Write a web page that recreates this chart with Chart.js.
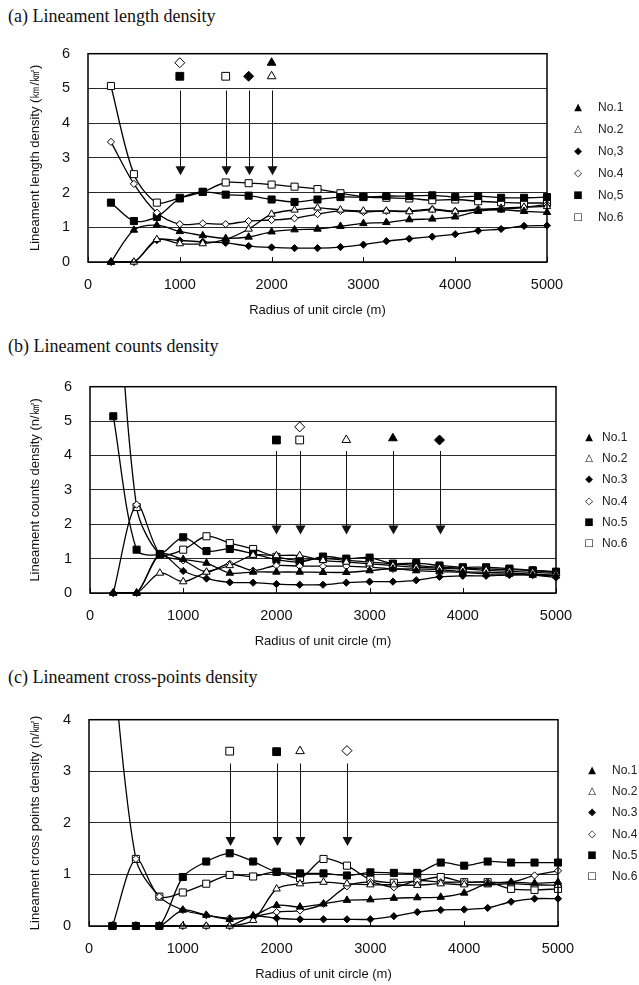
<!DOCTYPE html>
<html>
<head>
<meta charset="utf-8">
<script src="https://cdn.jsdelivr.net/npm/chart.js@4.4.1/dist/chart.umd.min.js"></script>
<style>
  body { margin: 0; background: #fff; width: 639px; height: 985px; position: relative; overflow: hidden; font-family: "Liberation Sans", Arial, sans-serif; }
  .ttl { position: absolute; left: 8px; font-family: "Liberation Serif", "Times New Roman", serif; font-size: 18px; color: #111; line-height: 20px; white-space: nowrap; }
  canvas { position: absolute; left: 0; }
  .lg { position: absolute; font-size: 12px; color: #222; line-height: 14px; white-space: nowrap; }
  .lg.sym { font-family: "DejaVu Sans", sans-serif; font-size: 10px; width: 16px; text-align: center; color: #000; }
</style>
</head>
<body>
<div class="ttl" style="top:6px">(a) Lineament length density</div>
<div class="ttl" style="top:336px">(b) Lineament counts density</div>
<div class="ttl" style="top:667px">(c) Lineament cross-points density</div>
<canvas id="cA"></canvas>
<canvas id="cB"></canvas>
<canvas id="cC"></canvas>
<script>
// Radius of unit circle (m)
const radius = [250, 500, 750, 1000, 1250, 1500, 1750, 2000, 2250, 2500, 2750, 3000, 3250, 3500, 3750, 4000, 4250, 4500, 4750, 5000];

// (a) Lineament length density (km/km2)
const lenNo1 = [0, 0.92, 1.06, 0.88, 0.76, 0.68, 0.72, 0.87, 0.93, 0.95, 1.03, 1.11, 1.14, 1.22, 1.24, 1.3, 1.46, 1.5, 1.46, 1.43];
const lenNo2 = [0, 0, 0.65, 0.53, 0.53, 0.65, 0.95, 1.38, 1.5, 1.56, 1.5, 1.47, 1.47, 1.45, 1.5, 1.45, 1.5, 1.55, 1.58, 1.6];
const lenNo3 = [0, 0, 0.63, 0.62, 0.58, 0.55, 0.46, 0.42, 0.4, 0.4, 0.43, 0.5, 0.6, 0.67, 0.73, 0.8, 0.9, 0.95, 1.04, 1.05];
const lenNo4 = [3.46, 2.25, 1.42, 1.09, 1.11, 1.09, 1.18, 1.21, 1.26, 1.38, 1.47, 1.44, 1.47, 1.47, 1.52, 1.47, 1.52, 1.52, 1.57, 1.66];
const lenNo5 = [1.71, 1.18, 1.3, 1.83, 2.02, 1.94, 1.91, 1.8, 1.73, 1.8, 1.87, 1.87, 1.9, 1.9, 1.92, 1.87, 1.9, 1.85, 1.85, 1.87];
const lenNo6 = [5.07, 2.53, 1.71, 1.85, 2.02, 2.29, 2.27, 2.23, 2.17, 2.1, 1.98, 1.88, 1.85, 1.83, 1.78, 1.8, 1.75, 1.72, 1.7, 1.7];
const lenMarkX = [1000, 1000, 1500, 1750, 2000, 2000];
const lenMarkY = [5.74, 5.35, 5.35, 5.35, 5.74, 5.35];
const lenMarkNo = [4, 5, 6, 3, 1, 2];
const lenArrowX = [1000, 1500, 1750, 2000];
const lenArrowY = [4.94, 2.5];

// (b) Lineament counts density (n/km2)
const cntNo1 = [0, 0, 1.13, 0.98, 0.87, 0.58, 0.61, 0.61, 0.61, 0.6, 0.6, 0.65, 0.7, 0.65, 0.62, 0.6, 0.55, 0.55, 0.52, 0.5];
const cntNo2 = [0, 0, 0.58, 0.33, 0.61, 0.8, 1.1, 1.09, 1.09, 0.95, 0.9, 0.85, 0.8, 0.75, 0.72, 0.7, 0.66, 0.63, 0.6, 0.57];
const cntNo3 = [0, 0, 1.13, 0.64, 0.42, 0.31, 0.3, 0.26, 0.24, 0.24, 0.3, 0.33, 0.33, 0.37, 0.47, 0.5, 0.5, 0.52, 0.52, 0.45];
const cntNo4 = [0, 2.57, 1.13, 0.95, 0.61, 0.85, 0.65, 0.8, 0.78, 0.78, 0.78, 0.75, 0.7, 0.7, 0.68, 0.62, 0.6, 0.58, 0.55, 0.52];
const cntNo5 = [5.14, 1.26, 1.13, 1.62, 1.22, 1.28, 1.14, 0.97, 0.9, 1.06, 1.0, 1.03, 0.85, 0.87, 0.8, 0.75, 0.75, 0.71, 0.66, 0.62];
const cntNo6 = [11, 2.5, 1.13, 1.26, 1.65, 1.45, 1.28, 1.05, 0.95, 1.0, 0.95, 0.9, 0.85, 0.8, 0.75, 0.72, 0.7, 0.68, 0.65, 0.6];
const cntMarkX = [2000, 2250, 2250, 2750, 3250, 3750];
const cntMarkY = [4.45, 4.83, 4.45, 4.45, 4.5, 4.45];
const cntMarkNo = [5, 4, 6, 2, 1, 3];
const cntArrowX = [2000, 2250, 2750, 3250, 3750];
const cntArrowY = [4.13, 1.7];

// (c) Lineament cross points density (n/km2)
const crsNo1 = [0, 0, 0, 0.31, 0.21, 0.13, 0.2, 0.4, 0.37, 0.43, 0.5, 0.51, 0.54, 0.55, 0.56, 0.64, 0.82, 0.85, 0.83, 0.85];
const crsNo2 = [0, 0, 0, 0, 0, 0, 0.11, 0.72, 0.82, 0.85, 0.82, 0.8, 0.8, 0.79, 0.82, 0.8, 0.8, 0.82, 0.8, 0.79];
const crsNo3 = [0, 0, 0, 0, 0, 0, 0.19, 0.15, 0.13, 0.13, 0.13, 0.13, 0.19, 0.27, 0.31, 0.32, 0.35, 0.47, 0.53, 0.53];
const crsNo4 = [5.2, 1.3, 0.57, 0.31, 0.21, 0.15, 0.18, 0.27, 0.3, 0.43, 0.77, 0.85, 0.75, 0.88, 0.85, 0.85, 0.85, 0.85, 0.98, 1.07];
const crsNo5 = [0, 0, 0, 0.95, 1.25, 1.41, 1.25, 1.05, 1.02, 1.02, 0.98, 1.04, 1.03, 1.03, 1.23, 1.17, 1.25, 1.23, 1.23, 1.23];
const crsNo6 = [0, 1.3, 0.57, 0.65, 0.82, 0.99, 0.96, 1.05, 0.93, 1.3, 1.17, 0.9, 0.84, 0.88, 0.95, 0.85, 0.85, 0.72, 0.7, 0.72];
const crsMarkX = [1500, 2000, 2250, 2750];
const crsMarkY = [3.39, 3.38, 3.39, 3.4];
const crsMarkNo = [6, 5, 2, 4];
const crsArrowX = [1500, 2000, 2250, 2750];
const crsArrowY = [3.15, 1.55];

const labelsA = ['No.1', 'No.2', 'No,3', 'No.4', 'No,5', 'No.6'];
const labelsBC = ['No.1', 'No.2', 'No.3', 'No.4', 'No.5', 'No.6'];
const legendSymbols = ['▲', '△', '◆', '◇', '■', '□'];

// marker look per series No.1..No.6
const marks = [
  { style: 'triangle', fill: '#000', r: 4.3, big: 5 },
  { style: 'triangle', fill: '#fff', r: 4.3, big: 5 },
  { style: 'rectRot', fill: '#000', r: 3.6, big: 5 },
  { style: 'rectRot', fill: '#fff', r: 3.6, big: 5 },
  { style: 'rect', fill: '#000', r: 5, big: 5.5 },
  { style: 'rect', fill: '#fff', r: 5, big: 5.5 }
];

// box, inner ticks and arrows
const framePlugin = {
  id: 'frame',
  afterDatasetsDraw(chart, args, opts) {
    const { ctx, chartArea: a, scales: { x, y } } = chart;
    ctx.save();
    ctx.strokeStyle = '#111';
    ctx.fillStyle = '#111';
    ctx.lineWidth = 1;
    const top = y.getPixelForValue(opts.arrowY[0]);
    const tip = y.getPixelForValue(opts.arrowY[1]);
    opts.arrowX.forEach(v => {
      const px = Math.round(x.getPixelForValue(v)) + 0.5;
      ctx.beginPath();
      ctx.moveTo(px, top);
      ctx.lineTo(px, tip - 8);
      ctx.stroke();
      ctx.beginPath();
      ctx.moveTo(px - 5, tip - 9);
      ctx.lineTo(px + 5, tip - 9);
      ctx.lineTo(px, tip);
      ctx.closePath();
      ctx.fill();
    });
    x.ticks.forEach(t => {
      const px = Math.round(x.getPixelForValue(t.value)) + 0.5;
      ctx.beginPath();
      ctx.moveTo(px, a.bottom);
      ctx.lineTo(px, a.bottom - 5);
      ctx.stroke();
    });
    ctx.strokeStyle = '#000';
    ctx.lineWidth = 1.5;
    ctx.strokeRect(a.left, a.top, a.right - a.left, a.bottom - a.top);
    ctx.restore();
  }
};

function makePanel(id, box, yMax, yTitle, series, markX, markY, markNo, arrowX, arrowY) {
  const cv = document.getElementById(id);
  const cTop = box.top - 24;
  const cH = box.bottom - cTop + 60;
  cv.width = 639;
  cv.height = cH;
  cv.style.top = cTop + 'px';

  const datasets = [{
    label: 'marks',
    data: markX.map((v, i) => ({ x: v, y: markY[i] })),
    showLine: false,
    pointStyle: markNo.map(n => marks[n - 1].style),
    pointRadius: markNo.map(n => marks[n - 1].big),
    pointBackgroundColor: markNo.map(n => marks[n - 1].fill),
    pointBorderColor: '#000',
    pointBorderWidth: 1
  }];
  series.forEach((s, i) => {
    datasets.push({
      label: 'No.' + (i + 1),
      data: radius.map((r, k) => ({ x: r, y: s[k] })),
      borderColor: '#000',
      borderWidth: 1.3,
      tension: 0.3,
      pointStyle: marks[i].style,
      pointRadius: marks[i].r,
      pointBackgroundColor: marks[i].fill,
      pointBorderColor: '#000',
      pointBorderWidth: 1,
      clip: { left: 10, right: 10, top: 0, bottom: 10 }
    });
  });

  return new Chart(cv, {
    type: 'line',
    data: { datasets },
    plugins: [framePlugin],
    options: {
      responsive: false,
      animation: false,
      devicePixelRatio: 1,
      layout: { padding: { top: 24, right: 639 - box.right, left: 0, bottom: 0 } },
      plugins: {
        legend: { display: false },
        tooltip: { enabled: false },
        frame: { arrowX, arrowY }
      },
      scales: {
        x: {
          type: 'linear', min: 0, max: 5000,
          ticks: { stepSize: 1000, color: '#111', font: { family: 'Liberation Sans', size: 14.5 }, padding: 14, maxRotation: 0, callback: v => String(v) },
          grid: { display: false, drawTicks: false },
          border: { display: false },
          title: { display: true, text: 'Radius of unit circle (m)', color: '#111', font: { family: 'Liberation Sans', size: 13 }, padding: { top: 0, bottom: 4 } },
          afterFit: s => { s.height = 60; }
        },
        y: {
          min: 0, max: yMax,
          ticks: { stepSize: 1, color: '#111', font: { family: 'Liberation Sans', size: 14.5 }, padding: 18 },
          grid: { color: '#2a2a2a', lineWidth: 1, drawTicks: false },
          border: { display: false },
          title: { display: true, text: yTitle, color: '#111', font: { family: 'Liberation Sans', size: 13 }, padding: { top: 28, bottom: 0 } },
          afterFit: s => { s.width = box.left; }
        }
      }
    }
  });
}

function makeLegend(labels, symX, textX, y0, dy) {
  labels.forEach((t, i) => {
    const yc = y0 + i * dy;
    const s = document.createElement('div');
    s.className = 'lg sym';
    s.style.left = (symX - 8) + 'px';
    s.style.top = (yc - 7) + 'px';
    s.textContent = legendSymbols[i];
    document.body.appendChild(s);
    const l = document.createElement('div');
    l.className = 'lg';
    l.style.left = textX + 'px';
    l.style.top = (yc - 7) + 'px';
    l.textContent = t;
    document.body.appendChild(l);
  });
}

makePanel('cA', { top: 51, bottom: 262, left: 88, right: 547 }, 6, 'Lineament length density (㎞/㎢)',
  [lenNo1, lenNo2, lenNo3, lenNo4, lenNo5, lenNo6], lenMarkX, lenMarkY, lenMarkNo, lenArrowX, lenArrowY);
makePanel('cB', { top: 384, bottom: 593, left: 90, right: 556 }, 6, 'Lineament counts density (n/㎢)',
  [cntNo1, cntNo2, cntNo3, cntNo4, cntNo5, cntNo6], cntMarkX, cntMarkY, cntMarkNo, cntArrowX, cntArrowY);
makePanel('cC', { top: 717, bottom: 926, left: 89, right: 558 }, 4, 'Lineament cross points density (n/㎢)',
  [crsNo1, crsNo2, crsNo3, crsNo4, crsNo5, crsNo6], crsMarkX, crsMarkY, crsMarkNo, crsArrowX, crsArrowY);

makeLegend(labelsA, 578, 598, 107, 22);
makeLegend(labelsBC, 589, 602, 437, 21.2);
makeLegend(labelsBC, 592, 612, 770, 21.2);
</script>
</body>
</html>
